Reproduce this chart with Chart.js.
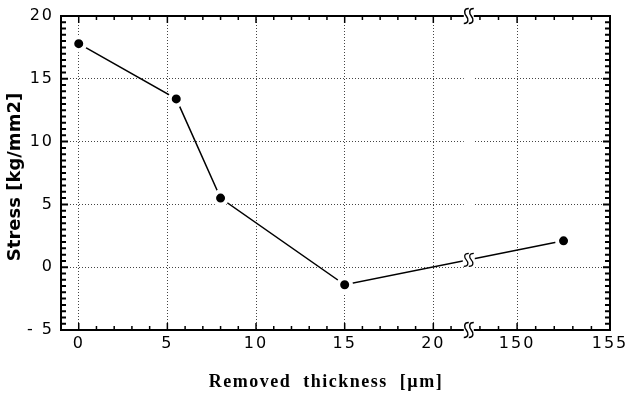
<!DOCTYPE html>
<html>
<head>
<meta charset="utf-8">
<script src="https://cdn.jsdelivr.net/npm/chart.js@4/dist/chart.umd.min.js"></script>
<style>
  html, body { margin: 0; padding: 0; background: #fff; }
  #wrap { width: 628px; height: 397px; position: relative; }
</style>
</head>
<body>
<div id="wrap"><canvas id="c" width="628" height="397"></canvas></div>
<script>
// ---- data ----
const thickness = [0, 5.5, 8, 15, 152.5];          // Removed thickness [µm]
const stress = [17.8, 13.4, 5.5, -1.4, 2.1];        // Stress [kg/mm2]
const xMajorTicks = [0, 5, 10, 15, 20, 150, 155];
const xTickLabels = ['0', '5', '10', '15', '20', '150', '155'];
const yMajorTicks = [-5, 0, 5, 10, 15, 20];
const yTickLabels = ['- 5', '0', '5', '10', '15', '20'];
const xMinorLeft = [1, 2, 3, 4, 6, 7, 8, 9, 11, 12, 13, 14, 16, 17, 18, 19, 21];
const xMinorRight = [148, 149, 151, 152, 153, 154];
const xTitle = 'Removed  thickness  [µm]';
const yTitle = 'Stress [kg/mm2]';

// ---- broken x axis: 22 … 147.4 is cut out ----
const BREAK_LO = 22, BREAK_HI = 147.4, RIGHT_SCALE = 1.048;
function toAxis(x) { return x <= BREAK_LO ? x : BREAK_LO + (x - BREAK_HI) * RIGHT_SCALE; }
const X_MIN = -1, X_MAX = toAxis(155);

const points = thickness.map((t, i) => ({ x: toAxis(t), y: stress[i] }));

function drawS(ctx, x, y, h) {
  // tall "ʃʃ" break mark
  for (const dx of [-2.5, 2.5]) {
    const cx = x + dx;
    ctx.beginPath();
    ctx.moveTo(cx + 2.5, y - h / 2);
    ctx.bezierCurveTo(cx - 3, y - h / 2, cx - 2, y - h / 6, cx, y);
    ctx.bezierCurveTo(cx + 2, y + h / 6, cx + 3, y + h / 2, cx - 2.5, y + h / 2);
    ctx.stroke();
  }
}

const framePlugin = {
  id: 'frame',
  beforeDraw(chart) {
    chart.ctx.letterSpacing = '2px';
  },
  beforeDatasetsDraw(chart) {
    const ctx = chart.ctx, a = chart.chartArea, xs = chart.scales.x;
    const bx = xs.getPixelForValue(BREAK_LO);
    ctx.save();
    ctx.fillStyle = '#fff';
    ctx.fillRect(bx - 5, a.top + 1, 10, a.bottom - a.top - 2);
    ctx.restore();
  },
  afterDatasetsDraw(chart) {
    // break mark on the data line
    const ctx = chart.ctx, xs = chart.scales.x;
    const bx = xs.getPixelForValue(BREAK_LO);
    const els = chart.getDatasetMeta(0).data;
    for (let i = 0; i < els.length - 1; i++) {
      const p = els[i], q = els[i + 1];
      if (p.x < bx && q.x > bx) {
        const y = p.y + (q.y - p.y) * (bx - p.x) / (q.x - p.x);
        ctx.save();
        ctx.fillStyle = '#fff';
        ctx.fillRect(bx - 6, y - 4, 12, 8);
        ctx.strokeStyle = '#000';
        ctx.lineWidth = 1.3;
        drawS(ctx, bx, y, 13);
        ctx.restore();
      }
    }
  },
  afterDraw(chart) {
    const ctx = chart.ctx, a = chart.chartArea, xs = chart.scales.x, ys = chart.scales.y;
    ctx.save();
    ctx.strokeStyle = '#000';
    // frame
    ctx.lineWidth = 2;
    ctx.strokeRect(a.left, a.top, a.right - a.left, a.bottom - a.top);
    // x ticks (inward, top and bottom)
    ctx.lineWidth = 1.5;
    const xt = [];
    xMajorTicks.forEach(v => xt.push([toAxis(v), 7]));
    xMinorLeft.forEach(v => xt.push([toAxis(v), 4]));
    xMinorRight.forEach(v => xt.push([toAxis(v), 4]));
    xt.forEach(([v, len]) => {
      const px = xs.getPixelForValue(v);
      ctx.beginPath();
      ctx.moveTo(px, a.bottom); ctx.lineTo(px, a.bottom - len);
      ctx.moveTo(px, a.top); ctx.lineTo(px, a.top + len);
      ctx.stroke();
    });
    // y ticks (inward, left and right), every 0.5
    ctx.lineWidth = 2;
    for (let k = 1; k < (20 - -5) * 2; k++) {
      const v = -5 + k * 0.5;
      const len = (v % 5 === 0) ? 7 : 5;
      const py = ys.getPixelForValue(v);
      ctx.beginPath();
      ctx.moveTo(a.left, py); ctx.lineTo(a.left + len, py);
      ctx.moveTo(a.right, py); ctx.lineTo(a.right - len, py);
      ctx.stroke();
    }
    // axis break marks
    const bx = xs.getPixelForValue(BREAK_LO);
    ctx.fillStyle = '#fff';
    ctx.fillRect(bx - 5, a.top - 2, 10, 4);
    ctx.fillRect(bx - 5, a.bottom - 2, 10, 4);
    ctx.lineWidth = 1.5;
    drawS(ctx, bx, a.top, 15);
    drawS(ctx, bx, a.bottom, 15);

    // x axis title (bold serif, letter-spaced)
    ctx.fillStyle = '#000';
    ctx.font = 'bold 18px "Liberation Serif"';
    ctx.letterSpacing = '1.5px';
    ctx.textAlign = 'center';
    ctx.textBaseline = 'middle';
    ctx.fillText(xTitle, 326, 382);

    // y axis title
    ctx.font = 'bold 18px "DejaVu Sans"';
    ctx.letterSpacing = '0px';
    ctx.translate(15, 177);
    ctx.rotate(-Math.PI / 2);
    ctx.fillText(yTitle, 0, 0);
    ctx.restore();
  }
};

new Chart(document.getElementById('c'), {
  type: 'line',
  data: {
    datasets: [{
      data: points,
      borderColor: '#000',
      borderWidth: 1.5,
      pointRadius: 6.5,
      pointBorderWidth: 4,
      pointBackgroundColor: '#000',
      pointBorderColor: '#fff',
      tension: 0,
      clip: false
    }]
  },
  options: {
    responsive: false,
    animation: false,
    events: [],
    layout: { padding: { top: 16, right: 18, left: 0, bottom: 0 } },
    plugins: { legend: { display: false }, tooltip: { enabled: false } },
    scales: {
      x: {
        type: 'linear',
        min: X_MIN,
        max: X_MAX,
        afterBuildTicks(scale) { scale.ticks = xMajorTicks.map(v => ({ value: toAxis(v) })); },
        afterFit(scale) { scale.height = 67; scale.paddingLeft = 0; scale.paddingRight = 0; },
        ticks: {
          autoSkip: false,
          maxRotation: 0,
          padding: 4,
          color: '#000',
          font: { family: 'DejaVu Sans', size: 16 },
          callback(value, index) { return xTickLabels[index]; }
        },
        grid: {
          drawTicks: false,
          lineWidth: 1,
          color(ctx) {
            const v = ctx.tick ? ctx.tick.value : null;
            return (v === null || v === X_MAX) ? 'rgba(0,0,0,0)' : '#444';
          }
        },
        border: { display: false, dash: [1, 2] },
        title: { display: false }
      },
      y: {
        type: 'linear',
        min: -5,
        max: 20,
        afterBuildTicks(scale) { scale.ticks = yMajorTicks.map(v => ({ value: v })); },
        afterFit(scale) { scale.width = 61; scale.paddingTop = 0; scale.paddingBottom = 0; },
        ticks: {
          padding: 7,
          color: '#000',
          font: { family: 'DejaVu Sans', size: 16 },
          callback(value, index) { return yTickLabels[index]; }
        },
        grid: {
          drawTicks: false,
          lineWidth: 1,
          color(ctx) {
            const v = ctx.tick ? ctx.tick.value : null;
            return (v === -5 || v === 20 || v === null) ? 'rgba(0,0,0,0)' : '#444';
          }
        },
        border: { display: false, dash: [1, 2] },
        title: { display: false }
      }
    }
  },
  plugins: [framePlugin]
});
</script>
</body>
</html>
